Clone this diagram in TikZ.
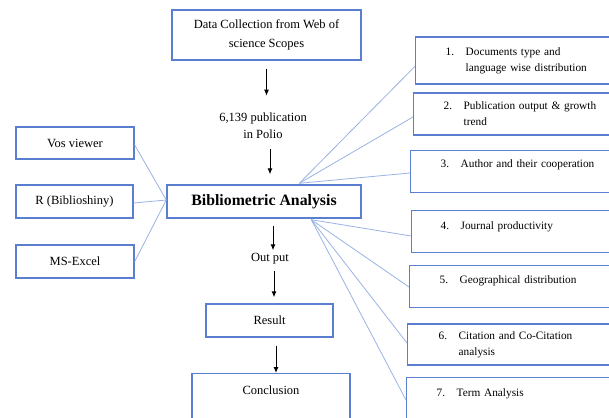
\documentclass[tikz,border=0pt]{standalone}
\usepackage{fontspec}
\setmainfont{Liberation Serif}
\usetikzlibrary{arrows.meta,calc}
\definecolor{boxblue}{HTML}{5B7FD0}
\definecolor{linkblue}{HTML}{9BB3E5}
\begin{document}
\begin{tikzpicture}[x=1pt,y=-1pt,
  box/.style={draw=boxblue,line width=1.4pt,inner sep=0pt,font=\fontsize{12.5}{18}\selectfont,align=center},
  rbox/.style={draw=boxblue,line width=1.4pt,inner sep=0pt,font=\fontsize{11.3}{16}\selectfont,align=left,text width=#1},
  link/.style={draw=linkblue,line width=0.8pt},
  arr/.style={draw=black,line width=1pt,-{Latex[length=6pt,width=5pt]}},
  plain/.style={inner sep=0pt,font=\fontsize{12.5}{17}\selectfont,align=center}]
\clip (0,0) rectangle (609,417);
\fill[white] (0,0) rectangle (609,417);
% centre column
\node[box,minimum width=189pt,minimum height=50pt,font=\fontsize{12.5}{19}\selectfont] (data) at (266.5,35) {Data Collection from Web of\\science Scopes};
\node[plain] (polio) at (263,126) {6,139 publication\\in Polio};
\node[box,minimum width=194pt,minimum height=33pt,font=\fontsize{15.8}{18}\selectfont\bfseries] (bib) at (264,201.5) {Bibliometric Analysis};
\node[plain] (outp) at (270,259) {Out put};
\node[box,minimum width=127pt,minimum height=33pt] (res) at (269.5,320.5) {Result};
\node[box,anchor=north,minimum width=158pt,text height=21pt,text depth=30pt] (concl) at (271,373) {Conclusion};
% left tools
\node[box,minimum width=118pt,minimum height=32pt] (vos) at (75,143) {Vos viewer};
\node[box,minimum width=117pt,minimum height=33pt] (rb) at (74.5,201.5) {R (Biblioshiny)};
\node[box,minimum width=118pt,minimum height=33pt] (ms) at (75,261.5) {MS-Excel};
% right topics
\node[rbox=200pt,anchor=west,minimum height=47pt] (r1) at (415,60.5) {\hspace*{30pt}\makebox[20pt][l]{1.}Documents type and\\\hspace*{50pt}language wise distribution};
\node[rbox=202pt,anchor=west,minimum height=42pt] (r2) at (413,114) {\hspace*{30pt}\makebox[20pt][l]{2.}Publication output \& growth\\\hspace*{50pt}trend};
\node[rbox=205pt,anchor=north west,text height=17pt,text depth=25pt] (r3) at (410,150) {\hspace*{30pt}\makebox[20pt][l]{3.}Author and their cooperation};
\node[rbox=204pt,anchor=north west,text height=19pt,text depth=23pt] (r4) at (411,210) {\hspace*{29pt}\makebox[20pt][l]{4.}Journal productivity};
\node[rbox=206pt,anchor=north west,text height=18pt,text depth=24pt] (r5) at (409,265) {\hspace*{30pt}\makebox[20pt][l]{5.}Geographical distribution};
\node[rbox=208pt,anchor=west,minimum height=41pt] (r6) at (407,344.5) {\hspace*{31pt}\makebox[20pt][l]{6.}Citation and Co-Citation\\\hspace*{51pt}analysis};
\node[rbox=209pt,anchor=north west,text height=19pt,text depth=30pt] (r7) at (406,377) {\hspace*{30pt}\makebox[20pt][l]{7.}Term Analysis};
% junction points
\coordinate (tj) at ($(bib.north west)+(133,-1)$);
\coordinate (bj) at ($(bib.south west)+(145,1)$);
\coordinate (lj) at ($(bib.west)+(0,-1.5)$);
% links
\draw[link] ($(vos.east)+(0,2)$) -- (lj);
\draw[link] ($(rb.east)+(0,1.5)$) -- (lj);
\draw[link] (ms.east) -- (lj);
\draw[link] (tj) -- ($(r1.north west)+(0,30)$);
\draw[link] (tj) -- ($(r2.west)+(0,3)$);
\draw[link] (tj) -- ($(r3.north west)+(0,23)$);
\draw[link] (bj) -- ($(r4.north west)+(0,26)$);
\draw[link] (bj) -- ($(r5.north west)+(0,22)$);
\draw[link] (bj) -- ($(r6.west)+(0,-1.5)$);
\draw[link] (bj) -- ($(r7.north west)+(0,23)$);
% arrows
\draw[arr] ([yshift=-8pt]data.south) -- ([yshift=-35pt]data.south);
\draw[arr] ([xshift=6pt,yshift=35pt]bib.north) -- ([xshift=6pt,yshift=10pt]bib.north);
\draw[arr] ([xshift=9pt,yshift=-7pt]bib.south) -- ([xshift=3pt,yshift=3pt]outp.north);
\draw[arr] ([xshift=4pt,yshift=-6pt]outp.south) -- ([xshift=4.5pt,yshift=6pt]res.north);
\draw[arr] ([xshift=6.5pt,yshift=-8pt]res.south) -- ([xshift=5pt]concl.north);
\end{tikzpicture}
\end{document}
